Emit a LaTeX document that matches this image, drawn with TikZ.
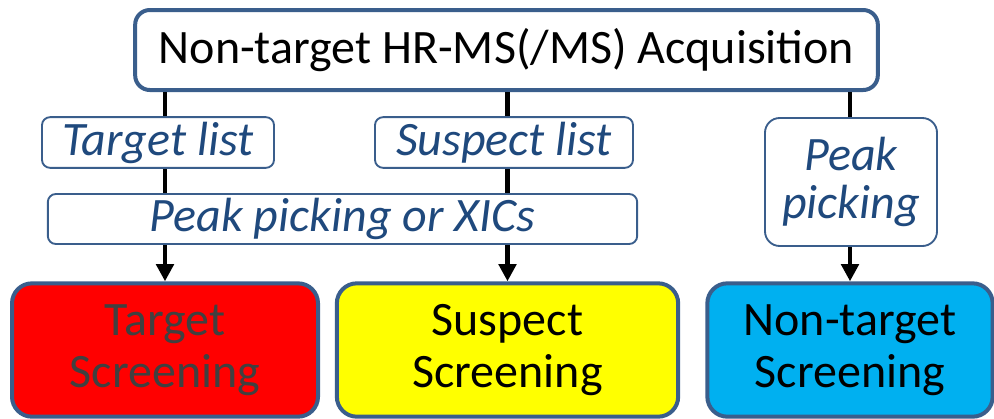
\documentclass[tikz,border=0pt]{standalone}
\usepackage{fontspec}
\setmainfont{Carlito}
\usetikzlibrary{arrows.meta}
\definecolor{boxedge}{HTML}{3A5E8C}
\definecolor{labeltext}{HTML}{1F497D}
\definecolor{screenred}{HTML}{FF0000}
\definecolor{screenyellow}{HTML}{FFFF00}
\definecolor{screencyan}{HTML}{00B0F0}

\begin{document}
\begin{tikzpicture}[x=0.75pt, y=-0.75pt,
    acq/.style={draw=boxedge, fill=white, rounded corners=11pt,
      line width=3pt, minimum width=557pt, minimum height=60pt,
      inner sep=0pt, font=\fontsize{36}{40}\selectfont},
    tag/.style={draw=boxedge, fill=white, rounded corners=6pt,
      line width=1.4pt, minimum height=38pt, inner sep=0pt,
      text=labeltext, align=center,
      font=\fontsize{36}{36}\selectfont\itshape},
    screen/.style={draw=boxedge, rounded corners=15pt, line width=3pt,
      minimum height=100pt, inner sep=0pt, align=center,
      font=\fontsize{36}{39}\selectfont},
    feed/.style={line width=3.6pt, -{Triangle[length=13pt,width=13pt]}},
  ]
  \useasboundingbox (0,0) rectangle (994,418);

  \node[acq] (acq) at (506.5,50) {Non-target HR-MS(/MS) Acquisition};

  \node[screen, fill=screenred, text=black!75, minimum width=229.5pt]
    (tscr) at (165,350) {Target\\Screening};
  \node[screen, fill=screenyellow, minimum width=256pt]
    (sscr) at (507.5,350) {Suspect\\Screening};
  \node[screen, fill=screencyan, minimum width=214pt]
    (nscr) at (850,350) {Non-target\\Screening};

  % feeds from the acquisition down to each screening
  \draw[feed] (acq.south -| tscr.north) -- (tscr.north);
  \draw[feed] (acq.south -| sscr.north) -- (sscr.north);
  \draw[feed] (acq.south -| nscr.north) -- (nscr.north);

  \node[tag, minimum width=174pt] (tlist) at (158,142.5) {Target list};
  \node[tag, minimum width=193.5pt] (slist) at (504,142.5) {Suspect list};
  \node[tag, minimum width=442pt, minimum height=37.5pt]
    (xic) at (342.5,219) {Peak picking or XICs};
  \node[tag, rounded corners=11pt, minimum width=129pt, minimum height=96pt]
    (peak) at (851,182) {Peak\\picking};
\end{tikzpicture}
\end{document}
